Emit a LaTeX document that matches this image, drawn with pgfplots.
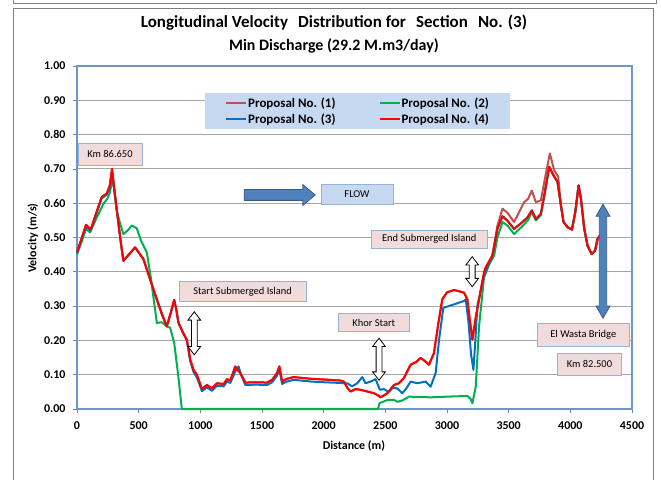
\documentclass[border=0pt]{standalone}
\usepackage{fontspec}
\setmainfont{Carlito}
\usepackage{pgfplots}
\pgfplotsset{compat=1.18}
\usepackage{pgfplotstable}
\usetikzlibrary{shapes.arrows}

\definecolor{pone}{HTML}{C0504D}
\definecolor{ptwo}{HTML}{00B050}
\definecolor{pthree}{HTML}{0070C0}
\definecolor{pfour}{HTML}{FF0000}
\definecolor{axisblue}{HTML}{6F96CB}
\definecolor{gridgray}{HTML}{A6A6A6}
\definecolor{legfill}{HTML}{C6D9F1}
\definecolor{boxpink}{HTML}{F2DCDB}
\definecolor{boxedge}{HTML}{95B3D7}
\definecolor{arrowblue}{HTML}{4F81BD}
\definecolor{arrowedge}{HTML}{385D8A}

% Proposal No. (4)
\pgfplotstableread{
d v
0 0.457
40 0.500
73 0.537
111 0.523
150 0.565
200 0.618
241 0.628
265 0.650
284 0.700
300 0.650
322 0.583
350 0.500
376 0.432
420 0.450
471 0.471
539 0.437
600 0.370
647 0.320
690 0.275
728 0.241
760 0.280
788 0.318
805 0.290
823 0.251
860 0.222
891 0.202
918 0.144
945 0.114
972 0.100
1013 0.058
1053 0.070
1094 0.060
1135 0.075
1189 0.073
1216 0.087
1243 0.083
1283 0.124
1302 0.114
1324 0.105
1365 0.077
1450 0.078
1541 0.077
1582 0.085
1622 0.105
1641 0.124
1663 0.080
1700 0.088
1757 0.093
1900 0.088
2000 0.086
2136 0.083
2163 0.080
2195 0.060
2218 0.051
2258 0.058
2299 0.056
2353 0.051
2407 0.046
2440 0.040
2461 0.034
2490 0.040
2516 0.046
2570 0.070
2610 0.075
2650 0.090
2705 0.129
2750 0.137
2786 0.149
2820 0.140
2854 0.129
2894 0.163
2930 0.250
2962 0.320
3000 0.340
3057 0.347
3100 0.343
3138 0.339
3165 0.320
3185 0.260
3206 0.202
3230 0.260
3260 0.320
3300 0.398
3314 0.413
3368 0.447
3409 0.525
3450 0.562
3490 0.549
3544 0.525
3612 0.545
3653 0.559
3688 0.579
3720 0.554
3761 0.569
3794 0.633
3829 0.706
3864 0.681
3896 0.662
3924 0.593
3945 0.545
3978 0.530
4013 0.523
4040 0.574
4067 0.652
4086 0.613
4113 0.525
4140 0.476
4173 0.452
4200 0.461
4221 0.496
4248 0.510
}\pfour

% Proposal No. (1)
\pgfplotstableread{
d v
0 0.457
40 0.500
73 0.537
111 0.523
150 0.565
200 0.618
241 0.628
265 0.650
284 0.700
300 0.650
322 0.583
350 0.500
376 0.432
420 0.450
471 0.471
539 0.437
600 0.370
647 0.320
690 0.275
728 0.241
760 0.280
788 0.318
805 0.290
823 0.251
860 0.222
891 0.202
918 0.144
945 0.114
972 0.100
1013 0.058
1053 0.070
1094 0.060
1135 0.075
1189 0.073
1216 0.087
1243 0.083
1283 0.124
1302 0.114
1324 0.105
1365 0.077
1450 0.078
1541 0.077
1582 0.085
1622 0.105
1641 0.124
1663 0.080
1700 0.088
1757 0.093
1900 0.088
2000 0.086
2136 0.083
2163 0.080
2195 0.060
2218 0.051
2258 0.058
2299 0.056
2353 0.051
2407 0.046
2440 0.040
2461 0.034
2490 0.040
2516 0.046
2570 0.070
2610 0.075
2650 0.090
2705 0.129
2750 0.137
2786 0.149
2820 0.140
2854 0.129
2894 0.163
2930 0.250
2962 0.320
3000 0.340
3057 0.347
3100 0.343
3138 0.339
3165 0.320
3185 0.260
3206 0.202
3230 0.260
3260 0.320
3300 0.398
3314 0.413
3368 0.447
3409 0.535
3450 0.584
3490 0.572
3544 0.545
3590 0.578
3626 0.603
3658 0.613
3688 0.637
3720 0.603
3761 0.608
3794 0.672
3834 0.745
3869 0.696
3902 0.677
3924 0.593
3945 0.545
3978 0.530
4013 0.523
4040 0.574
4067 0.652
4086 0.613
4113 0.525
4140 0.476
4173 0.452
4200 0.461
4221 0.496
4248 0.510
}\pone

% Proposal No. (2)
\pgfplotstableread{
d v
0 0.450
40 0.490
73 0.525
106 0.515
150 0.550
214 0.598
246 0.613
265 0.630
290 0.672
322 0.580
350 0.540
376 0.510
410 0.520
444 0.535
484 0.527
520 0.490
566 0.457
600 0.380
647 0.251
688 0.253
728 0.241
755 0.237
788 0.193
820 0.100
850 0.000
2440 0.000
2453 0.017
2516 0.026
2570 0.027
2597 0.021
2638 0.025
2692 0.036
2867 0.034
3000 0.036
3165 0.038
3190 0.030
3206 0.017
3233 0.065
3260 0.241
3300 0.383
3340 0.420
3382 0.447
3409 0.500
3450 0.545
3490 0.535
3544 0.510
3612 0.533
3653 0.549
3688 0.574
3720 0.550
3761 0.565
3794 0.633
3829 0.706
3864 0.681
3896 0.662
3924 0.593
3945 0.545
3978 0.530
4013 0.523
4040 0.574
4067 0.652
4086 0.613
4113 0.525
4140 0.476
4173 0.452
4200 0.461
4221 0.496
4248 0.510
}\ptwo

% Proposal No. (3)
\pgfplotstableread{
d v
0 0.455
40 0.498
73 0.533
111 0.520
150 0.562
200 0.614
241 0.625
265 0.645
284 0.690
300 0.645
322 0.580
350 0.500
376 0.432
420 0.450
471 0.471
539 0.437
600 0.370
647 0.320
690 0.275
728 0.241
760 0.280
788 0.318
805 0.290
823 0.251
860 0.222
891 0.200
918 0.140
945 0.108
972 0.092
1013 0.052
1053 0.063
1094 0.053
1135 0.068
1189 0.066
1216 0.080
1243 0.076
1290 0.115
1310 0.124
1330 0.100
1365 0.070
1450 0.071
1541 0.070
1582 0.078
1622 0.097
1641 0.117
1663 0.073
1700 0.080
1757 0.085
1900 0.080
2000 0.078
2136 0.076
2163 0.075
2191 0.075
2231 0.066
2272 0.075
2313 0.093
2339 0.075
2380 0.080
2421 0.087
2456 0.056
2488 0.058
2529 0.050
2560 0.062
2597 0.060
2638 0.046
2670 0.060
2705 0.080
2759 0.075
2827 0.080
2867 0.065
2908 0.105
2935 0.200
2970 0.295
3057 0.305
3138 0.315
3152 0.320
3175 0.250
3195 0.160
3214 0.114
3230 0.200
3246 0.300
3300 0.388
3340 0.425
3368 0.447
3409 0.525
3450 0.562
3490 0.549
3544 0.525
3612 0.545
3653 0.559
3688 0.579
3720 0.554
3761 0.569
3794 0.633
3829 0.706
3864 0.681
3896 0.662
3924 0.593
3945 0.545
3978 0.530
4013 0.523
4040 0.574
4067 0.652
4086 0.613
4113 0.525
4140 0.476
4173 0.452
4200 0.461
4221 0.496
4248 0.510
}\pthree

\begin{document}
\begin{tikzpicture}
\useasboundingbox (0bp,0bp) rectangle (661bp,480bp);
% chart frames
\draw[gray, line width=0.9bp] (13bp,-5bp) rectangle (653.5bp,471.7bp);
\draw[gray, line width=0.9bp] (13bp,490bp) |- (656bp,476.7bp) -- (656bp,490bp);

\begin{axis}[
    at={(77bp,71bp)}, anchor=south west,
    scale only axis, width=555bp, height=343bp,
    xmin=0, xmax=4500, ymin=0, ymax=1,
    xtick={0,500,1000,1500,2000,2500,3000,3500,4000,4500},
    ytick={0,0.1,0.2,0.3,0.4,0.5,0.6,0.7,0.8,0.9,1.0},
    scaled x ticks=false,
    clip=false,
    ymajorgrids,
    major grid style={color=gridgray, line width=0.8bp},
    axis line style={color=axisblue, line width=1.3bp},
    tick pos=left, tick align=outside,
    major tick length=4bp,
    tick style={color=gray, line width=0.6bp},
    /pgf/number format/assume math mode=true,
    ticklabel style={font=\bfseries\fontsize{12}{14}\selectfont},
    y tick label style={xshift=-4bp, /pgf/number format/fixed, /pgf/number format/fixed zerofill, /pgf/number format/precision=2},
    x tick label style={yshift=-5bp, /pgf/number format/1000 sep={}},
    title={\fontsize{17}{23}\selectfont Longitudinal Velocity\hspace{0.6em}Distribution for\hspace{0.6em}Section\hspace{0.6em}No. (3)\\\fontsize{16}{23}\selectfont Min Discharge (29.2 M.m3/day)},
    title style={at={(axis description cs:0.463,1.077)}, anchor=center, align=center,
        font=\bfseries\fontsize{16}{23}\selectfont},
    xlabel={Distance (m)},
    ylabel={Velocity (m/s)},
    xlabel style={at={(axis description cs:0.499,-0.108)}, anchor=center, font=\bfseries\fontsize{12}{14}\selectfont},
    ylabel style={at={(axis description cs:-0.0793,0.4985)}, anchor=center, font=\bfseries\fontsize{12}{14}\selectfont},
    legend columns=2,
    legend cell align=left,
    legend style={at={(0.2306,0.9213)}, anchor=north west, draw=none, fill=legfill,
        font=\bfseries\fontsize{13}{15}\selectfont, inner xsep=20bp, inner ysep=2bp,
        /tikz/every even column/.append style={column sep=42bp},
        nodes={inner xsep=1bp, inner ysep=2.5bp}},
    legend image code/.code={\draw[#1, line width=2bp] (0bp,0bp) -- (20bp,0bp);},
    every axis plot/.append style={line width=2bp, line join=round},
]
\addplot[pone] table {\pone};
\addlegendentry{Proposal No. (1)}
\addplot[ptwo] table {\ptwo};
\addlegendentry{Proposal No. (2)}
\addplot[pthree] table {\pthree};
\addlegendentry{Proposal No. (3)}
\addplot[pfour] table {\pfour};
\addlegendentry{Proposal No. (4)}
\end{axis}

% annotations
\begin{scope}[every node/.style={font=\fontsize{10.5}{12}\selectfont, inner sep=0pt}]
\node[draw=boxedge, fill=boxpink, line width=0.8bp, minimum width=64bp, minimum height=22bp] at (110bp,326bp) {Km 86.650};
\node[single arrow, draw=arrowedge, fill=arrowblue, line width=0.8bp, minimum height=71bp,
      inner xsep=0pt, inner ysep=5bp, single arrow head extend=5bp, single arrow tip angle=80] at (276.5bp,285bp) {};
\node[draw=boxedge, fill=legfill, line width=0.8bp, minimum width=72bp, minimum height=20bp] at (357bp,286bp) {FLOW};
\node[draw=boxedge, fill=boxpink, line width=0.8bp, minimum width=127bp, minimum height=20bp] at (242.6bp,188.3bp) {Start Submerged Island};
\node[double arrow, draw=black, fill=white, line width=0.8bp, rotate=90, minimum height=43bp,
      inner xsep=0pt, inner ysep=2.5bp, double arrow head extend=3.5bp, double arrow tip angle=75] at (194.3bp,146.7bp) {};
\node[draw=boxedge, fill=boxpink, line width=0.8bp, minimum width=71bp, minimum height=18bp] at (373.8bp,157.2bp) {Khor Start};
\node[double arrow, draw=black, fill=white, line width=0.8bp, rotate=90, minimum height=42bp,
      inner xsep=0pt, inner ysep=2.5bp, double arrow head extend=3.5bp, double arrow tip angle=75] at (379bp,120.8bp) {};
\node[draw=boxedge, fill=boxpink, line width=0.8bp, minimum width=116bp, minimum height=18bp] at (429.2bp,240.8bp) {End Submerged Island};
\node[double arrow, draw=black, fill=white, line width=0.8bp, rotate=90, minimum height=30bp,
      inner xsep=0pt, inner ysep=2.5bp, double arrow head extend=3.5bp, double arrow tip angle=75] at (472.2bp,208.3bp) {};
\node[double arrow, draw=arrowedge, fill=arrowblue, line width=0.8bp, rotate=90, minimum height=114bp,
      inner xsep=0pt, inner ysep=3.3bp, double arrow head extend=3.3bp, double arrow tip angle=60] at (603bp,218.8bp) {};
\node[draw=boxedge, fill=boxpink, line width=0.8bp, minimum width=92bp, minimum height=23bp] at (583.3bp,145.3bp) {El Wasta Bridge};
\node[draw=boxedge, fill=boxpink, line width=0.8bp, minimum width=64bp, minimum height=22bp] at (589.5bp,115.7bp) {Km 82.500};
\end{scope}
\end{tikzpicture}
\end{document}
